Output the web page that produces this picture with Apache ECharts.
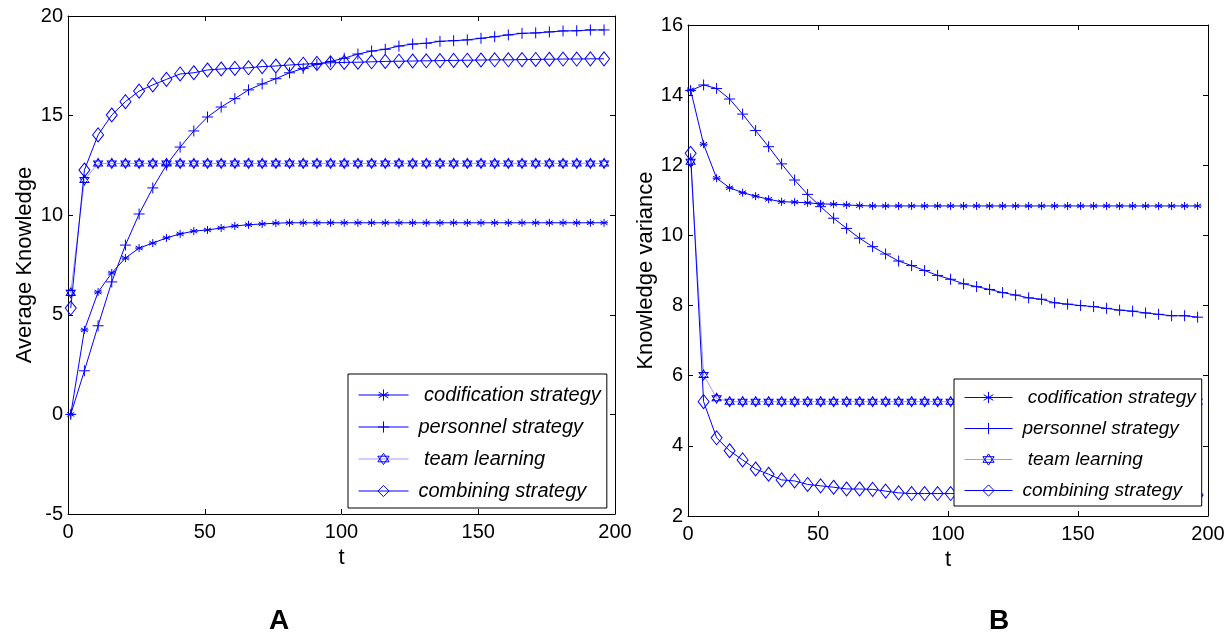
<!DOCTYPE html>
<html>
<head>
<meta charset="utf-8">
<script src="https://cdn.jsdelivr.net/npm/echarts@6/dist/echarts.min.js"></script>
<style>
  html, body { margin: 0; padding: 0; background: #fff; }
  #chart { width: 1230px; height: 636px; }
</style>
</head>
<body>
<div id="chart"></div>
<script>
const chartDom = document.getElementById("chart");
let myChart = echarts.init(chartDom);

const FONT = "'Liberation Sans', Arial, sans-serif";

// time steps (markers every 5 steps starting at t = 1)
const tSteps = [1, 6, 11, 16, 21, 26, 31, 36, 41, 46, 51, 56, 61, 66, 71, 76, 81, 86, 91, 96,
  101, 106, 111, 116, 121, 126, 131, 136, 141, 146, 151, 156, 161, 166, 171, 176, 181, 186, 191, 196];

const seriesNames = [" codification strategy", "personnel strategy", " team learning", "combining strategy"];

/** panel A : average knowledge */
const avgCodification = [0, 4.24, 6.14, 7.1, 7.85, 8.35, 8.6, 8.86, 9.06, 9.2,
  9.26, 9.36, 9.46, 9.52, 9.56, 9.6, 9.62, 9.62, 9.62, 9.62,
  9.62, 9.62, 9.62, 9.62, 9.62, 9.62, 9.62, 9.62, 9.62, 9.62,
  9.62, 9.62, 9.62, 9.62, 9.62, 9.62, 9.62, 9.62, 9.62, 9.62];
const avgPersonnel = [0, 2.19, 4.45, 6.65, 8.5, 10.06, 11.37, 12.52, 13.42, 14.23,
  14.93, 15.43, 15.85, 16.29, 16.59, 16.85, 17.15, 17.37, 17.57, 17.72,
  17.88, 18.09, 18.24, 18.33, 18.49, 18.59, 18.63, 18.73, 18.76, 18.8,
  18.88, 18.96, 19.05, 19.13, 19.15, 19.2, 19.25, 19.26, 19.3, 19.3];
const avgTeam = [6.1, 11.77, 12.6, 12.6, 12.6, 12.6, 12.6, 12.6, 12.6, 12.6,
  12.6, 12.6, 12.6, 12.6, 12.6, 12.6, 12.6, 12.6, 12.6, 12.6,
  12.6, 12.6, 12.6, 12.6, 12.6, 12.6, 12.6, 12.6, 12.6, 12.6,
  12.6, 12.6, 12.6, 12.6, 12.6, 12.6, 12.6, 12.6, 12.6, 12.6];
const avgCombining = [5.34, 12.27, 14.03, 15.03, 15.7, 16.23, 16.54, 16.82, 17.09, 17.15,
  17.29, 17.34, 17.37, 17.4, 17.46, 17.49, 17.54, 17.58, 17.62, 17.65,
  17.67, 17.68, 17.7, 17.72, 17.73, 17.74, 17.75, 17.76, 17.77, 17.78,
  17.79, 17.8, 17.8, 17.81, 17.82, 17.83, 17.84, 17.84, 17.85, 17.85];

/** panel B : knowledge variance */
const varCodification = [14.15, 12.6, 11.63, 11.36, 11.22, 11.12, 11.03, 10.96, 10.95, 10.93,
  10.9, 10.89, 10.87, 10.85, 10.84, 10.84, 10.84, 10.84, 10.84, 10.84,
  10.84, 10.84, 10.84, 10.84, 10.84, 10.84, 10.84, 10.84, 10.84, 10.84,
  10.84, 10.84, 10.84, 10.84, 10.84, 10.84, 10.84, 10.84, 10.84, 10.84];
const varPersonnel = [14.13, 14.29, 14.19, 13.89, 13.46, 12.99, 12.53, 12.04, 11.58, 11.17,
  10.82, 10.49, 10.2, 9.92, 9.68, 9.47, 9.27, 9.14, 9.0, 8.86,
  8.75, 8.62, 8.54, 8.46, 8.37, 8.3, 8.22, 8.18, 8.08, 8.04,
  8.0, 7.97, 7.92, 7.87, 7.84, 7.79, 7.75, 7.71, 7.71, 7.67];
const varTeam = [12.1, 6.02, 5.36, 5.26, 5.26, 5.26, 5.26, 5.26, 5.26, 5.26,
  5.26, 5.26, 5.26, 5.26, 5.26, 5.26, 5.26, 5.26, 5.26, 5.26,
  5.26, 5.26, 5.26, 5.26, 5.26, 5.26, 5.26, 5.26, 5.26, 5.26,
  5.26, 5.26, 5.26, 5.26, 5.26, 5.26, 5.26, 5.26, 5.26, 5.26];
const varCombining = [12.34, 5.26, 4.23, 3.86, 3.6, 3.34, 3.19, 3.03, 3.0, 2.9,
  2.86, 2.82, 2.77, 2.77, 2.76, 2.71, 2.66, 2.64, 2.64, 2.64,
  2.64, 2.63, 2.63, 2.63, 2.62, 2.62, 2.62, 2.62, 2.61, 2.61,
  2.61, 2.61, 2.61, 2.6, 2.6, 2.6, 2.6, 2.6, 2.6, 2.6];

const xTicks = { min: 0, max: 200, interval: 50 };
const yTicksA = { min: -5, max: 20, interval: 5 };
const yTicksB = { min: 2, max: 16, interval: 2 };

// MATLAB style markers
const markers = [
  { symbol: "path://M0,-10L0,10M-8.66,-5L8.66,5M-8.66,5L8.66,-5M-10,0L10,0", size: [8, 8] },
  { symbol: "path://M0,-10L0,10M-10,0L10,0", size: [11, 11] },
  { symbol: "path://M0,-10L8.66,5L-8.66,5ZM0,10L8.66,-5L-8.66,-5Z", size: [9, 10] },
  { symbol: "path://M0,-10L7,0L0,10L-7,0Z", size: [11, 14] },
];
const lineColors = ["#0000ff", "#0000ff", "#9a9aff", "#0000ff"];

function pairs(values) {
  return tSteps.map((t, i) => [t, values[i]]);
}

function makeSeries(gridIdx, values) {
  return values.map((vals, k) => ({
    name: seriesNames[k],
    type: "line",
    xAxisIndex: gridIdx * 2,
    yAxisIndex: gridIdx * 2,
    data: pairs(vals),
    symbol: markers[k].symbol,
    symbolSize: markers[k].size,
    showSymbol: true,
    lineStyle: { color: lineColors[k], width: 1 },
    itemStyle: { color: "none", borderColor: "#0000ff", borderWidth: 1 },
    emphasis: { disabled: true },
    z: 2,
  }));
}

function axisBase(ticks, extra) {
  return Object.assign({
    type: "value",
    min: ticks.min,
    max: ticks.max,
    interval: ticks.interval,
    axisLine: { show: true, onZero: false, lineStyle: { color: "#000", width: 1 } },
    axisTick: { show: true, inside: true, length: 5, lineStyle: { color: "#000" } },
    splitLine: { show: false },
    axisLabel: { show: false },
  }, extra);
}

function shownLabel(margin) {
  return { show: true, color: "#000", fontSize: 20, fontFamily: FONT, margin: margin };
}

const nameStyle = { color: "#000", fontSize: 22, fontFamily: FONT };

function legendFor(left, top, fontSize, iconWidth, padding) {
  return {
    orient: "vertical",
    left: left,
    top: top,
    data: seriesNames.map((name, k) => ({
      name: name,
      lineStyle: { color: lineColors[k], width: 1 },
      itemStyle: { color: "none", borderColor: "#0000ff", borderWidth: 1 },
    })),
    itemWidth: iconWidth,
    itemHeight: 14,
    itemGap: 12,
    padding: padding,
    backgroundColor: "#fff",
    borderColor: "#000",
    borderWidth: 1,
    selectedMode: false,
    textStyle: { color: "#000", fontSize: fontSize, fontStyle: "italic", fontFamily: FONT,
      padding: [0, 0, 0, 5] },
  };
}

let option = {
  animation: false,
  backgroundColor: "#fff",
  grid: [
    { left: 68, top: 16, width: 547, height: 498, outerBoundsMode: "none" },
    { left: 688, top: 25, width: 520, height: 491, outerBoundsMode: "none" },
  ],
  xAxis: [
    axisBase(xTicks, { gridIndex: 0, position: "bottom", axisLabel: shownLabel(8),
      name: "t", nameLocation: "middle", nameGap: 33, nameTextStyle: nameStyle }),
    axisBase(xTicks, { gridIndex: 0, position: "top" }),
    axisBase(xTicks, { gridIndex: 1, position: "bottom", axisLabel: shownLabel(8),
      name: "t", nameLocation: "middle", nameGap: 33, nameTextStyle: nameStyle }),
    axisBase(xTicks, { gridIndex: 1, position: "top" }),
  ],
  yAxis: [
    axisBase(yTicksA, { gridIndex: 0, position: "left", axisLabel: shownLabel(5),
      name: "Average Knowledge", nameLocation: "middle", nameGap: 32, nameTextStyle: nameStyle }),
    axisBase(yTicksA, { gridIndex: 0, position: "right" }),
    axisBase(yTicksB, { gridIndex: 1, position: "left", axisLabel: shownLabel(5),
      name: "Knowledge variance", nameLocation: "middle", nameGap: 30, nameTextStyle: nameStyle }),
    axisBase(yTicksB, { gridIndex: 1, position: "right" }),
  ],
  legend: [
    legendFor(348, 374, 20, 50, [11, 6, 7, 10]),
    legendFor(954, 379, 19, 48, [9, 6, 6, 10]),
  ],
  graphic: [
    { type: "text", x: 279, y: 607, style: { text: "A", textAlign: "center", textVerticalAlign: "top",
      font: "bold 28px " + FONT, fill: "#000" } },
    { type: "text", x: 999, y: 607, style: { text: "B", textAlign: "center", textVerticalAlign: "top",
      font: "bold 28px " + FONT, fill: "#000" } },
  ],
  series: [].concat(
    makeSeries(0, [avgCodification, avgPersonnel, avgTeam, avgCombining]),
    makeSeries(1, [varCodification, varPersonnel, varTeam, varCombining])
  ),
};

option && myChart.setOption(option);
</script>
</body>
</html>
